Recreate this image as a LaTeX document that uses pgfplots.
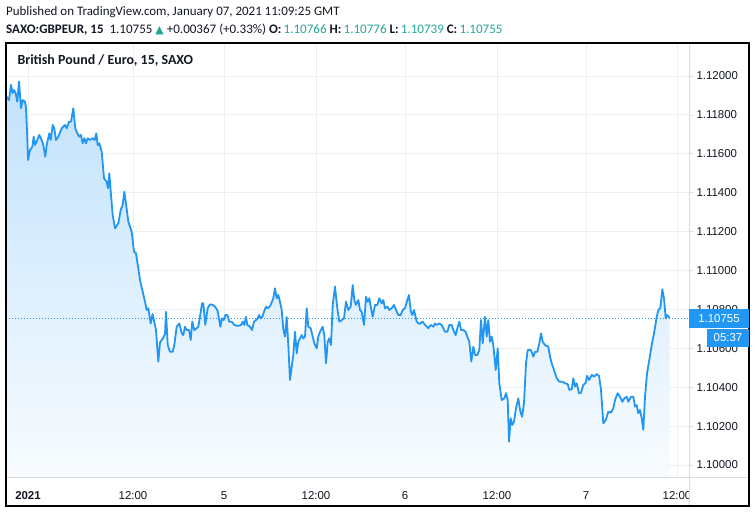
\documentclass[border=0pt]{standalone}
\usepackage{pgfplots}
\pgfplotsset{compat=1.18}
\usepackage{pgfplotstable}
\usepackage{fontspec}
\setmainfont{Liberation Sans}
\newfontfamily\calfont{Carlito}
\newfontfamily\symfont{DejaVu Sans}
\definecolor{tvblue}{HTML}{2196F3}
\definecolor{tvteal}{HTML}{26A69A}
\definecolor{tvtext}{HTML}{131722}
\definecolor{tvgrid}{HTML}{EEEFF2}
\definecolor{tvsep}{HTML}{DADCE0}

\pgfplotstableread{
x y
6.7 1.11893
9 1.11876
11 1.11954
12.7 1.11912
14 1.11928
15.7 1.11911
17.3 1.11868
19 1.11971
21 1.11835
22.7 1.11876
25 1.11868
26 1.11835
27.3 1.11681
28 1.11568
30 1.11619
32.3 1.11636
33.7 1.11688
35 1.11645
37.3 1.11671
39.3 1.11697
41.7 1.11671
43.3 1.11645
45.3 1.11585
46.7 1.11645
49.3 1.11705
50.7 1.11671
52.7 1.11748
54.3 1.11731
56 1.11671
58.3 1.11688
61.7 1.11731
65 1.11748
66.7 1.11731
69 1.11765
71 1.11765
73.3 1.11834
75.3 1.11731
77.3 1.11705
79.3 1.11688
81 1.11697
82.7 1.11654
84.3 1.11680
86 1.11654
87.7 1.11680
90 1.11671
92.7 1.11680
94.7 1.11671
96.3 1.11705
97.7 1.11645
99.3 1.11654
101.7 1.11611
104 1.11474
106.7 1.11456
108 1.11423
109.3 1.11500
111 1.11388
112.7 1.11285
115 1.11217
118.3 1.11243
120.7 1.11311
122.7 1.11337
124.3 1.11405
126 1.11345
128.3 1.11251
131.7 1.11199
134 1.11097
136 1.11088
138.3 1.11011
140 1.10951
142.7 1.10891
145 1.10840
146.7 1.10797
148.3 1.10806
150.7 1.10728
152.5 1.10776
154.3 1.10735
156 1.10694
158.3 1.10531
160 1.10630
163.3 1.10655
165 1.10673
166 1.10788
167.7 1.10617
170 1.10582
172.7 1.10582
174.3 1.10617
176.7 1.10711
179.3 1.10728
181.7 1.10677
183.3 1.10668
185 1.10711
186.7 1.10694
189 1.10694
190.7 1.10643
192.3 1.10737
194.3 1.10694
196.7 1.10703
198.3 1.10711
200 1.10762
202 1.10831
203.3 1.10831
205.3 1.10720
207.7 1.10806
210 1.10826
212.7 1.10823
215 1.10814
217.3 1.10797
218.7 1.10762
220.3 1.10711
222 1.10754
223.7 1.10745
225.3 1.10771
227.3 1.10771
229.3 1.10737
231.7 1.10737
234.3 1.10720
237.7 1.10715
241 1.10720
242.7 1.10737
244.3 1.10720
246 1.10762
247.3 1.10720
250 1.10711
252 1.10694
254 1.10737
256 1.10745
257.7 1.10754
259 1.10771
260.7 1.10754
262.3 1.10762
264 1.10788
266 1.10814
268.3 1.10806
270.7 1.10823
273.3 1.10857
275 1.10908
276.7 1.10857
278.3 1.10874
280 1.10838
281.7 1.10797
283.3 1.10699
285 1.10660
286.7 1.10761
288.3 1.10617
290 1.10437
291.7 1.10505
293.3 1.10566
295 1.10685
296.7 1.10574
298.3 1.10634
300 1.10651
301.7 1.10668
303.3 1.10651
305 1.10660
306.7 1.10806
308.3 1.10711
310.7 1.10703
312.7 1.10660
314.3 1.10626
316.7 1.10600
318.3 1.10660
320 1.10685
322.7 1.10711
324.3 1.10668
326 1.10523
327.7 1.10634
329.3 1.10651
331 1.10617
332.7 1.10823
335 1.10917
337.3 1.10806
339.3 1.10737
341.7 1.10745
344 1.10754
346 1.10840
348.3 1.10797
350.7 1.10814
352.7 1.10925
354.3 1.10848
356 1.10823
358.3 1.10848
360 1.10797
361.7 1.10788
364 1.10720
366 1.10865
367.7 1.10840
369.3 1.10857
371 1.10806
372.7 1.10762
375 1.10823
377.3 1.10823
379.3 1.10857
381.7 1.10831
383.3 1.10848
385 1.10806
387.3 1.10814
389.3 1.10797
391.7 1.10806
394 1.10823
396 1.10797
398.3 1.10771
400.7 1.10771
402.7 1.10797
405 1.10806
407.3 1.10848
409 1.10874
410.7 1.10792
412.3 1.10771
414 1.10797
416.7 1.10737
419.3 1.10725
422.7 1.10737
425 1.10720
428.3 1.10703
430.7 1.10720
433.3 1.10711
435 1.10728
436.7 1.10720
439.3 1.10728
441.7 1.10720
443.3 1.10703
445 1.10685
447.3 1.10685
449.3 1.10720
451.7 1.10720
453.3 1.10694
455.7 1.10668
457.3 1.10703
459.3 1.10737
461 1.10694
463.3 1.10694
465.7 1.10685
467.3 1.10660
469.3 1.10634
471.3 1.10531
473.3 1.10608
475 1.10566
477.3 1.10566
479.3 1.10591
481 1.10745
482.7 1.10626
485 1.10762
486.7 1.10660
488.3 1.10745
490 1.10634
491.7 1.10660
493.3 1.10617
495.7 1.10488
497.7 1.10600
499.3 1.10420
501.7 1.10334
504.3 1.10343
506 1.10369
507.7 1.10334
509 1.10120
510.7 1.10240
512.3 1.10206
514 1.10223
516 1.10292
518.3 1.10343
520 1.10283
522 1.10248
524 1.10317
526 1.10523
527.7 1.10591
531 1.10591
533.3 1.10557
535 1.10582
537.3 1.10582
539.3 1.10626
541 1.10677
542.7 1.10634
545 1.10617
548.3 1.10608
550 1.10557
551.7 1.10523
554 1.10488
556.7 1.10446
559.3 1.10428
562.7 1.10428
565 1.10420
567.7 1.10416
569.3 1.10386
571.7 1.10389
573.3 1.10446
575 1.10403
576.7 1.10420
579 1.10369
581 1.10372
583.3 1.10411
585.7 1.10423
587 1.10458
589 1.10437
591.7 1.10463
594.3 1.10454
596.7 1.10468
599 1.10458
601 1.10386
603.3 1.10214
605.7 1.10231
608.3 1.10274
611 1.10269
613.3 1.10292
615 1.10334
617.7 1.10369
620 1.10351
622.3 1.10325
624.3 1.10343
626.7 1.10351
628.3 1.10325
631 1.10351
633.3 1.10351
635 1.10300
636.7 1.10308
638.3 1.10266
640 1.10283
641.7 1.10240
643.3 1.10180
645 1.10351
647 1.10471
649.3 1.10540
651.7 1.10617
654.3 1.10685
656.7 1.10762
658.3 1.10797
660.3 1.10806
662.3 1.10903
664 1.10857
665.7 1.10754
667.3 1.10771
669.7 1.10755
}\gbpeur

\begin{document}
\begin{tikzpicture}
\useasboundingbox (0,0) rectangle (756bp,513bp);
\fill[white] (0,0) rectangle (756bp,513bp);
\begin{axis}[
  scale only axis,
  width=683bp, height=434bp,
  at={(6bp,36bp)}, anchor=south west,
  xmin=6, xmax=689,
  ymin=1.099383, ymax=1.121697,
  axis line style={draw=none},
  grid=major,
  grid style={tvgrid, line width=0.9bp},
  xtick={28,133,224,316,405,497,586,677},
  xticklabels={\textbf{2021},12:00,5,12:00,6,12:00,7,12:00},
  xtick style={draw=none},
  xticklabel style={anchor=center, yshift=-15bp, font=\fontsize{11.5}{13}\selectfont, text=tvtext},
  ytick={1.100,1.102,1.104,1.106,1.108,1.110,1.112,1.114,1.116,1.118,1.120},
  yticklabels={1.10000,1.10200,1.10400,1.10600,1.10800,1.11000,1.11200,1.11400,1.11600,1.11800,1.12000},
  ytick pos=right,
  yticklabel pos=right,
  ytick style={draw=tvsep, line width=0.8bp},
  tick align=outside,
  major tick length=4bp,
  yticklabel style={anchor=west, font=\fontsize{11.5}{13}\selectfont, text=tvtext},
  /pgf/number format/assume math mode=true,
]
\addplot[draw=none, top color=tvblue!28!white, bottom color=tvblue!3!white, forget plot]
  table {\gbpeur} -- (axis cs:669.7,1.099383) -- (axis cs:6.7,1.099383) -- cycle;
\addplot[tvblue, line width=1.8bp, line join=round, mark=none] table {\gbpeur};
\addplot[tvblue, line width=0.9bp, dash pattern=on 1.2bp off 1.8bp, mark=none]
  coordinates {(6,1.10755) (689,1.10755)};
\end{axis}
% hide time-scale label overflowing into the price scale
\fill[white] (689.6bp,8bp) rectangle (748bp,35.5bp);
% separators and frame
\draw[tvsep, line width=0.9bp] (6bp,36bp) -- (749bp,36bp);
\draw[tvsep, line width=0.9bp] (689bp,7bp) -- (689bp,470bp);
\draw[black, line width=1.5bp] (6bp,7bp) rectangle (749bp,470bp);
% price labels
\fill[tvblue] (689bp,185bp) rectangle (749bp,204bp);
\node[text=white, font=\fontsize{11.5}{13}\selectfont] at (719bp,194.5bp) {1.10755};
\fill[tvblue] (707bp,166bp) rectangle (749bp,184bp);
\node[text=white, font=\fontsize{11.5}{13}\selectfont] at (728bp,175bp) {05:37};
% chart title
\node[anchor=west, text=tvtext, font=\calfont\bfseries\fontsize{14}{16}\selectfont] at (14bp,452bp) {British Pound / Euro, 15, SAXO};
% header
\node[anchor=west, inner sep=0pt, text=tvtext, font=\calfont\fontsize{13}{15}\selectfont] at (6bp,500.5bp) {Published on TradingView.com, January 07, 2021 11:09:25 GMT};
\node[anchor=west, inner sep=0pt, text=tvtext, font=\calfont\fontsize{13.1}{15}\selectfont] at (6bp,483bp)
  {\textbf{SAXO:GBPEUR, 15}\ \ 1.10755 {\color{tvteal}\symfont\fontsize{11}{12}\selectfont ▲} +0.00367 (+0.33\%) \textbf{O:}\,{\color{tvteal}1.10766} \textbf{H:}\,{\color{tvteal}1.10776} \textbf{L:}\,{\color{tvteal}1.10739} \textbf{C:}\,{\color{tvteal}1.10755}};
\end{tikzpicture}
\end{document}
